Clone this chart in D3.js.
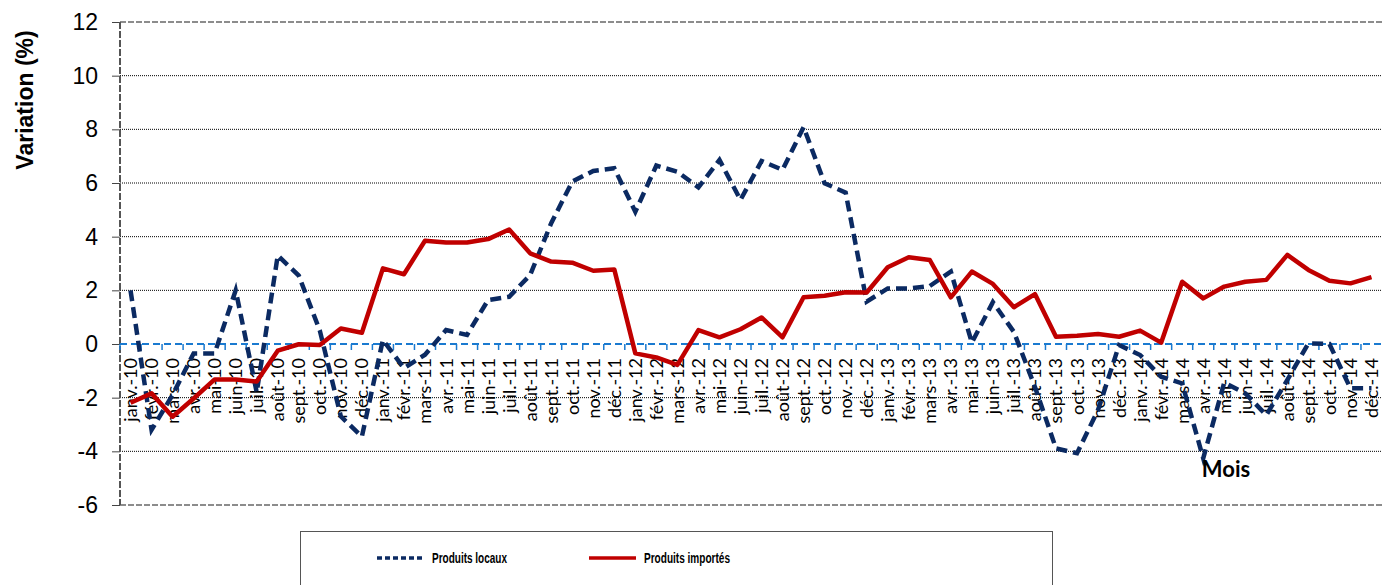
<!DOCTYPE html>
<html>
<head>
<meta charset="utf-8">
<script src="https://cdn.jsdelivr.net/npm/d3@7"></script>
<style>
  html, body { margin: 0; padding: 0; background: #fff; overflow: hidden; }
</style>
</head>
<body>
<svg id="chart" width="1382" height="585"></svg>
<script>
// months Jan 2010 - Dec 2014
const months = [
  "janv.-10","févr.-10","mars-10","avr.-10","mai-10","juin-10","juil.-10","août-10","sept.-10","oct.-10","nov.-10","déc.-10",
  "janv.-11","févr.-11","mars-11","avr.-11","mai-11","juin-11","juil.-11","août-11","sept.-11","oct.-11","nov.-11","déc.-11",
  "janv.-12","févr.-12","mars-12","avr.-12","mai-12","juin-12","juil.-12","août-12","sept.-12","oct.-12","nov.-12","déc.-12",
  "janv.-13","févr.-13","mars-13","avr.-13","mai-13","juin-13","juil.-13","août-13","sept.-13","oct.-13","nov.-13","déc.-13",
  "janv.-14","févr.-14","mars-14","avr.-14","mai-14","juin-14","juil.-14","août-14","sept.-14","oct.-14","nov.-14","déc.-14"
];

const produitsLocaux = [
  2.0, -3.2, -1.9, -0.35, -0.35, 2.0, -1.8, 3.3, 2.55, 0.5, -2.7, -3.45,
  0.15, -0.9, -0.4, 0.52, 0.34, 1.64, 1.76, 2.57, 4.5, 6.05, 6.45, 6.55,
  4.93, 6.65, 6.42, 5.84, 6.86, 5.37, 6.82, 6.49, 8.08, 5.99, 5.64, 1.58,
  2.07, 2.07, 2.16, 2.7, 0.05, 1.56, 0.45, -1.6, -3.89, -4.07, -2.46, -0.04,
  -0.41, -1.22, -1.47, -4.26, -1.44, -1.84, -2.65, -1.34, 0.02, 0.0, -1.65, -1.65
];

const produitsImportes = [
  -2.19, -1.84, -2.71, -2.03, -1.32, -1.32, -1.4, -0.25, -0.01, -0.04, 0.58, 0.42,
  2.82, 2.6, 3.85, 3.78, 3.78, 3.91, 4.27, 3.38, 3.07, 3.03, 2.73, 2.78,
  -0.35, -0.5, -0.78, 0.52, 0.25, 0.55, 0.99, 0.25, 1.74, 1.8, 1.93, 1.92,
  2.86, 3.23, 3.13, 1.74, 2.7, 2.24, 1.37, 1.86, 0.27, 0.31, 0.37, 0.27,
  0.5, 0.05, 2.32, 1.7, 2.14, 2.32, 2.39, 3.32, 2.76, 2.36, 2.26, 2.49
];

const yTicks = [-6, -4, -2, 0, 2, 4, 6, 8, 10, 12];

const svg = d3.select("#chart");
const plotLeft = 120, plotRight = 1382, plotTop = 22, plotBottom = 505;

const x = d3.scaleBand().domain(months).range([plotLeft, plotRight]).padding(0);
const y = d3.scaleLinear().domain([-6, 12]).range([plotBottom, plotTop]);
const cx = (d) => x(d) + x.bandwidth() / 2;

// gridlines
svg.append("g")
  .selectAll("line")
  .data(yTicks.filter((t) => t !== 0 && t !== 12 && t !== -6))
  .join("line")
  .attr("x1", plotLeft).attr("x2", plotRight)
  .attr("y1", (d) => y(d)).attr("y2", (d) => y(d))
  .attr("stroke", "#000").attr("stroke-width", 1)
  .attr("stroke-dasharray", "1,1");

// top and bottom borders
[12, -6].forEach((v) => {
  svg.append("line")
    .attr("x1", plotLeft).attr("x2", plotRight)
    .attr("y1", y(v)).attr("y2", y(v))
    .attr("stroke", "#8c8c8c").attr("stroke-width", 2)
    .attr("stroke-dasharray", "6,2");
});

// y axis
const yAxis = d3.axisLeft(y).tickValues(yTicks).tickFormat((d) => String(d)).tickSize(8).tickPadding(14);
const gy = svg.append("g").attr("transform", `translate(${plotLeft},0)`).call(yAxis);
gy.select(".domain").remove();
gy.selectAll(".tick line").attr("stroke", "#444").attr("stroke-width", 1);
gy.selectAll(".tick text")
  .attr("font-family", "Arial, 'Liberation Sans', sans-serif")
  .attr("font-size", 23)
  .attr("fill", "#000");
svg.append("line")
  .attr("x1", plotLeft).attr("x2", plotLeft)
  .attr("y1", plotTop).attr("y2", plotBottom)
  .attr("stroke", "#555").attr("stroke-width", 2)
  .attr("stroke-dasharray", "7,2");

// zero line with category ticks
svg.append("line")
  .attr("x1", plotLeft).attr("x2", plotRight)
  .attr("y1", y(0)).attr("y2", y(0))
  .attr("stroke", "#1a7ad0").attr("stroke-width", 2)
  .attr("stroke-dasharray", "7,4");
svg.append("g")
  .selectAll("line")
  .data(months)
  .join("line")
  .attr("x1", (d) => x(d)).attr("x2", (d) => x(d))
  .attr("y1", y(0)).attr("y2", y(0) + 6)
  .attr("stroke", "#1a7ad0").attr("stroke-width", 1.5);

// x labels
svg.append("g")
  .selectAll("text")
  .data(months)
  .join("text")
  .attr("transform", (d) => `translate(${cx(d)},${y(0) + 14}) rotate(-90)`)
  .attr("text-anchor", "end")
  .attr("dy", "0.36em")
  .attr("font-family", "Lato, Carlito, Calibri, sans-serif")
  .attr("font-size", 18)
  .attr("fill", "#000")
  .text((d) => d);

// series
const line = d3.line().x((d, i) => cx(months[i])).y((d) => y(d));

svg.append("path")
  .datum(produitsLocaux)
  .attr("d", line)
  .attr("fill", "none")
  .attr("stroke", "#0b2a62")
  .attr("stroke-width", 4.5)
  .attr("stroke-dasharray", "11,6");

svg.append("path")
  .datum(produitsImportes)
  .attr("d", line)
  .attr("fill", "none")
  .attr("stroke", "#c00000")
  .attr("stroke-width", 4.5)
  .attr("stroke-linejoin", "round");

// axis titles
svg.append("text")
  .attr("transform", "translate(33,100) rotate(-90)")
  .attr("text-anchor", "middle")
  .attr("font-family", "Arial, 'Liberation Sans', sans-serif")
  .attr("font-weight", "bold")
  .attr("font-size", 23)
  .text("Variation (%)");

svg.append("text")
  .attr("x", 1226).attr("y", 477)
  .attr("text-anchor", "middle")
  .attr("font-family", "Lato, Carlito, Calibri, sans-serif")
  .attr("font-weight", "bold")
  .attr("font-size", 22)
  .text("Mois");

// legend
const legend = svg.append("g");
legend.append("rect")
  .attr("x", 300.5).attr("y", 531.5)
  .attr("width", 752).attr("height", 70)
  .attr("fill", "#fff").attr("stroke", "#555").attr("stroke-width", 1);

const legendItems = [
  { name: "Produits locaux", color: "#0b2a62", dash: "5,3", x: 377, w: 75 },
  { name: "Produits importés", color: "#c00000", dash: null, x: 589, w: 86 }
];
legendItems.forEach((it) => {
  legend.append("line")
    .attr("x1", it.x).attr("x2", it.x + 47)
    .attr("y1", 558).attr("y2", 558)
    .attr("stroke", it.color).attr("stroke-width", 3.5)
    .attr("stroke-dasharray", it.dash);
  legend.append("text")
    .attr("x", it.x + 55).attr("y", 563)
    .attr("font-family", "'Liberation Sans Narrow', 'Arial Narrow', Arial, sans-serif")
    .attr("font-weight", "bold")
    .attr("font-size", 14)
    .attr("textLength", it.w)
    .attr("lengthAdjust", "spacingAndGlyphs")
    .text(it.name);
});
</script>
</body>
</html>
